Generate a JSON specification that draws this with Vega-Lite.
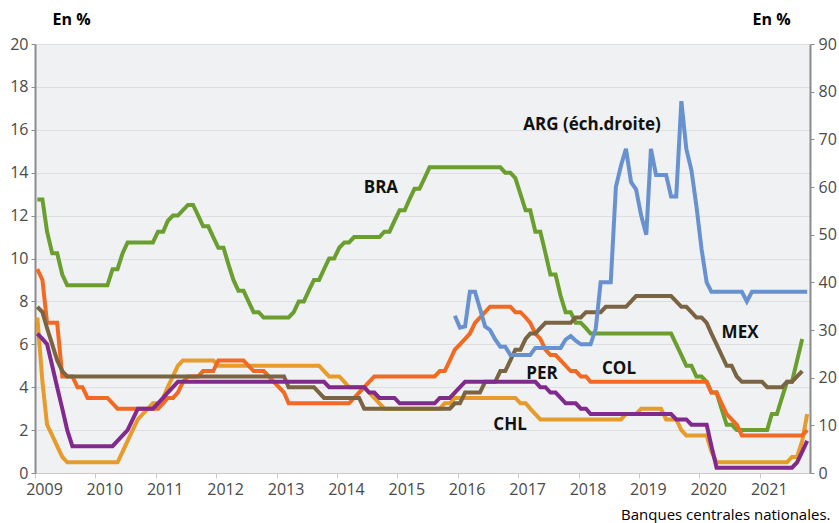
{
"$schema":"https://vega.github.io/schema/vega-lite/v6.json",
"width":775,"height":429,
"autosize":{"type":"none"},
"padding":{"left":35,"top":44,"right":29,"bottom":50},
"background":"white",
"config":{"view":{"fill":"#eff1f3","stroke":null},"font":"Open Sans"},
"data":{"values":[
{"d":"2009-01-15","BRA":12.75,"MEX":7.75,"COL":9.5,"CHL":7.25,"PER":6.5},
{"d":"2009-02-15","BRA":12.75,"MEX":7.5,"COL":9,"CHL":4.25,"PER":6.25},
{"d":"2009-03-15","BRA":11.25,"MEX":6.75,"COL":7,"CHL":2.25,"PER":6},
{"d":"2009-04-15","BRA":10.25,"MEX":6,"COL":7,"CHL":1.75,"PER":5},
{"d":"2009-05-15","BRA":10.25,"MEX":5.25,"COL":7,"CHL":1.25,"PER":4},
{"d":"2009-06-15","BRA":9.25,"MEX":4.75,"COL":4.5,"CHL":0.75,"PER":3},
{"d":"2009-07-15","BRA":8.75,"MEX":4.5,"COL":4.5,"CHL":0.5,"PER":2},
{"d":"2009-08-15","BRA":8.75,"MEX":4.5,"COL":4.5,"CHL":0.5,"PER":1.25},
{"d":"2009-09-15","BRA":8.75,"MEX":4.5,"COL":4,"CHL":0.5,"PER":1.25},
{"d":"2009-10-15","BRA":8.75,"MEX":4.5,"COL":4,"CHL":0.5,"PER":1.25},
{"d":"2009-11-15","BRA":8.75,"MEX":4.5,"COL":3.5,"CHL":0.5,"PER":1.25},
{"d":"2009-12-15","BRA":8.75,"MEX":4.5,"COL":3.5,"CHL":0.5,"PER":1.25},
{"d":"2010-01-15","BRA":8.75,"MEX":4.5,"COL":3.5,"CHL":0.5,"PER":1.25},
{"d":"2010-02-15","BRA":8.75,"MEX":4.5,"COL":3.5,"CHL":0.5,"PER":1.25},
{"d":"2010-03-15","BRA":8.75,"MEX":4.5,"COL":3.5,"CHL":0.5,"PER":1.25},
{"d":"2010-04-15","BRA":9.5,"MEX":4.5,"COL":3.25,"CHL":0.5,"PER":1.25},
{"d":"2010-05-15","BRA":9.5,"MEX":4.5,"COL":3,"CHL":0.5,"PER":1.5},
{"d":"2010-06-15","BRA":10.25,"MEX":4.5,"COL":3,"CHL":1,"PER":1.75},
{"d":"2010-07-15","BRA":10.75,"MEX":4.5,"COL":3,"CHL":1.5,"PER":2},
{"d":"2010-08-15","BRA":10.75,"MEX":4.5,"COL":3,"CHL":2,"PER":2.5},
{"d":"2010-09-15","BRA":10.75,"MEX":4.5,"COL":3,"CHL":2.5,"PER":3},
{"d":"2010-10-15","BRA":10.75,"MEX":4.5,"COL":3,"CHL":2.75,"PER":3},
{"d":"2010-11-15","BRA":10.75,"MEX":4.5,"COL":3,"CHL":3,"PER":3},
{"d":"2010-12-15","BRA":10.75,"MEX":4.5,"COL":3,"CHL":3.25,"PER":3},
{"d":"2011-01-15","BRA":11.25,"MEX":4.5,"COL":3,"CHL":3.25,"PER":3.25},
{"d":"2011-02-15","BRA":11.25,"MEX":4.5,"COL":3.25,"CHL":3.5,"PER":3.5},
{"d":"2011-03-15","BRA":11.75,"MEX":4.5,"COL":3.5,"CHL":4,"PER":3.75},
{"d":"2011-04-15","BRA":12,"MEX":4.5,"COL":3.5,"CHL":4.5,"PER":4},
{"d":"2011-05-15","BRA":12,"MEX":4.5,"COL":3.75,"CHL":5,"PER":4.25},
{"d":"2011-06-15","BRA":12.25,"MEX":4.5,"COL":4.25,"CHL":5.25,"PER":4.25},
{"d":"2011-07-15","BRA":12.5,"MEX":4.5,"COL":4.5,"CHL":5.25,"PER":4.25},
{"d":"2011-08-15","BRA":12.5,"MEX":4.5,"COL":4.5,"CHL":5.25,"PER":4.25},
{"d":"2011-09-15","BRA":12,"MEX":4.5,"COL":4.5,"CHL":5.25,"PER":4.25},
{"d":"2011-10-15","BRA":11.5,"MEX":4.5,"COL":4.75,"CHL":5.25,"PER":4.25},
{"d":"2011-11-15","BRA":11.5,"MEX":4.5,"COL":4.75,"CHL":5.25,"PER":4.25},
{"d":"2011-12-15","BRA":11,"MEX":4.5,"COL":4.75,"CHL":5.25,"PER":4.25},
{"d":"2012-01-15","BRA":10.5,"MEX":4.5,"COL":5.25,"CHL":5,"PER":4.25},
{"d":"2012-02-15","BRA":10.5,"MEX":4.5,"COL":5.25,"CHL":5,"PER":4.25},
{"d":"2012-03-15","BRA":9.75,"MEX":4.5,"COL":5.25,"CHL":5,"PER":4.25},
{"d":"2012-04-15","BRA":9,"MEX":4.5,"COL":5.25,"CHL":5,"PER":4.25},
{"d":"2012-05-15","BRA":8.5,"MEX":4.5,"COL":5.25,"CHL":5,"PER":4.25},
{"d":"2012-06-15","BRA":8.5,"MEX":4.5,"COL":5.25,"CHL":5,"PER":4.25},
{"d":"2012-07-15","BRA":8,"MEX":4.5,"COL":5,"CHL":5,"PER":4.25},
{"d":"2012-08-15","BRA":7.5,"MEX":4.5,"COL":4.75,"CHL":5,"PER":4.25},
{"d":"2012-09-15","BRA":7.5,"MEX":4.5,"COL":4.75,"CHL":5,"PER":4.25},
{"d":"2012-10-15","BRA":7.25,"MEX":4.5,"COL":4.75,"CHL":5,"PER":4.25},
{"d":"2012-11-15","BRA":7.25,"MEX":4.5,"COL":4.5,"CHL":5,"PER":4.25},
{"d":"2012-12-15","BRA":7.25,"MEX":4.5,"COL":4.25,"CHL":5,"PER":4.25},
{"d":"2013-01-15","BRA":7.25,"MEX":4.5,"COL":4,"CHL":5,"PER":4.25},
{"d":"2013-02-15","BRA":7.25,"MEX":4.5,"COL":3.75,"CHL":5,"PER":4.25},
{"d":"2013-03-15","BRA":7.25,"MEX":4,"COL":3.25,"CHL":5,"PER":4.25},
{"d":"2013-04-15","BRA":7.5,"MEX":4,"COL":3.25,"CHL":5,"PER":4.25},
{"d":"2013-05-15","BRA":8,"MEX":4,"COL":3.25,"CHL":5,"PER":4.25},
{"d":"2013-06-15","BRA":8,"MEX":4,"COL":3.25,"CHL":5,"PER":4.25},
{"d":"2013-07-15","BRA":8.5,"MEX":4,"COL":3.25,"CHL":5,"PER":4.25},
{"d":"2013-08-15","BRA":9,"MEX":4,"COL":3.25,"CHL":5,"PER":4.25},
{"d":"2013-09-15","BRA":9,"MEX":3.75,"COL":3.25,"CHL":5,"PER":4.25},
{"d":"2013-10-15","BRA":9.5,"MEX":3.5,"COL":3.25,"CHL":4.75,"PER":4.25},
{"d":"2013-11-15","BRA":10,"MEX":3.5,"COL":3.25,"CHL":4.5,"PER":4},
{"d":"2013-12-15","BRA":10,"MEX":3.5,"COL":3.25,"CHL":4.5,"PER":4},
{"d":"2014-01-15","BRA":10.5,"MEX":3.5,"COL":3.25,"CHL":4.5,"PER":4},
{"d":"2014-02-15","BRA":10.75,"MEX":3.5,"COL":3.25,"CHL":4.25,"PER":4},
{"d":"2014-03-15","BRA":10.75,"MEX":3.5,"COL":3.25,"CHL":4,"PER":4},
{"d":"2014-04-15","BRA":11,"MEX":3.5,"COL":3.5,"CHL":4,"PER":4},
{"d":"2014-05-15","BRA":11,"MEX":3.5,"COL":3.75,"CHL":4,"PER":4},
{"d":"2014-06-15","BRA":11,"MEX":3,"COL":4,"CHL":4,"PER":4},
{"d":"2014-07-15","BRA":11,"MEX":3,"COL":4.25,"CHL":3.75,"PER":3.75},
{"d":"2014-08-15","BRA":11,"MEX":3,"COL":4.5,"CHL":3.5,"PER":3.75},
{"d":"2014-09-15","BRA":11,"MEX":3,"COL":4.5,"CHL":3.25,"PER":3.5},
{"d":"2014-10-15","BRA":11.25,"MEX":3,"COL":4.5,"CHL":3,"PER":3.5},
{"d":"2014-11-15","BRA":11.25,"MEX":3,"COL":4.5,"CHL":3,"PER":3.5},
{"d":"2014-12-15","BRA":11.75,"MEX":3,"COL":4.5,"CHL":3,"PER":3.5},
{"d":"2015-01-15","BRA":12.25,"MEX":3,"COL":4.5,"CHL":3,"PER":3.25},
{"d":"2015-02-15","BRA":12.25,"MEX":3,"COL":4.5,"CHL":3,"PER":3.25},
{"d":"2015-03-15","BRA":12.75,"MEX":3,"COL":4.5,"CHL":3,"PER":3.25},
{"d":"2015-04-15","BRA":13.25,"MEX":3,"COL":4.5,"CHL":3,"PER":3.25},
{"d":"2015-05-15","BRA":13.25,"MEX":3,"COL":4.5,"CHL":3,"PER":3.25},
{"d":"2015-06-15","BRA":13.75,"MEX":3,"COL":4.5,"CHL":3,"PER":3.25},
{"d":"2015-07-15","BRA":14.25,"MEX":3,"COL":4.5,"CHL":3,"PER":3.25},
{"d":"2015-08-15","BRA":14.25,"MEX":3,"COL":4.5,"CHL":3,"PER":3.25},
{"d":"2015-09-15","BRA":14.25,"MEX":3,"COL":4.75,"CHL":3,"PER":3.5},
{"d":"2015-10-15","BRA":14.25,"MEX":3,"COL":4.75,"CHL":3.25,"PER":3.5},
{"d":"2015-11-15","BRA":14.25,"MEX":3,"COL":5.25,"CHL":3.25,"PER":3.5},
{"d":"2015-12-15","BRA":14.25,"MEX":3.25,"COL":5.75,"CHL":3.5,"PER":3.75,"ARG":33},
{"d":"2016-01-15","BRA":14.25,"MEX":3.25,"COL":6,"CHL":3.5,"PER":4,"ARG":30.5},
{"d":"2016-02-15","BRA":14.25,"MEX":3.75,"COL":6.25,"CHL":3.5,"PER":4.25,"ARG":30.75},
{"d":"2016-03-15","BRA":14.25,"MEX":3.75,"COL":6.5,"CHL":3.5,"PER":4.25,"ARG":38},
{"d":"2016-04-15","BRA":14.25,"MEX":3.75,"COL":7,"CHL":3.5,"PER":4.25,"ARG":38},
{"d":"2016-05-15","BRA":14.25,"MEX":3.75,"COL":7.25,"CHL":3.5,"PER":4.25,"ARG":34.5},
{"d":"2016-06-15","BRA":14.25,"MEX":4.25,"COL":7.5,"CHL":3.5,"PER":4.25,"ARG":30.75},
{"d":"2016-07-15","BRA":14.25,"MEX":4.25,"COL":7.75,"CHL":3.5,"PER":4.25,"ARG":30},
{"d":"2016-08-15","BRA":14.25,"MEX":4.25,"COL":7.75,"CHL":3.5,"PER":4.25,"ARG":28},
{"d":"2016-09-15","BRA":14.25,"MEX":4.75,"COL":7.75,"CHL":3.5,"PER":4.25,"ARG":26.5},
{"d":"2016-10-15","BRA":14,"MEX":4.75,"COL":7.75,"CHL":3.5,"PER":4.25,"ARG":26.5},
{"d":"2016-11-15","BRA":14,"MEX":5.25,"COL":7.75,"CHL":3.5,"PER":4.25,"ARG":24.75},
{"d":"2016-12-15","BRA":13.75,"MEX":5.75,"COL":7.5,"CHL":3.5,"PER":4.25,"ARG":24.75},
{"d":"2017-01-15","BRA":13,"MEX":5.75,"COL":7.5,"CHL":3.25,"PER":4.25,"ARG":24.75},
{"d":"2017-02-15","BRA":12.25,"MEX":6.25,"COL":7.25,"CHL":3.25,"PER":4.25,"ARG":24.75},
{"d":"2017-03-15","BRA":12.25,"MEX":6.5,"COL":7,"CHL":3,"PER":4.25,"ARG":24.75},
{"d":"2017-04-15","BRA":11.25,"MEX":6.5,"COL":6.5,"CHL":2.75,"PER":4.25,"ARG":26.25},
{"d":"2017-05-15","BRA":11.25,"MEX":6.75,"COL":6.25,"CHL":2.5,"PER":4,"ARG":26.25},
{"d":"2017-06-15","BRA":10.25,"MEX":7,"COL":5.75,"CHL":2.5,"PER":4,"ARG":26.25},
{"d":"2017-07-15","BRA":9.25,"MEX":7,"COL":5.5,"CHL":2.5,"PER":3.75,"ARG":26.25},
{"d":"2017-08-15","BRA":9.25,"MEX":7,"COL":5.5,"CHL":2.5,"PER":3.75,"ARG":26.25},
{"d":"2017-09-15","BRA":8.25,"MEX":7,"COL":5.25,"CHL":2.5,"PER":3.5,"ARG":26.25},
{"d":"2017-10-15","BRA":7.5,"MEX":7,"COL":5,"CHL":2.5,"PER":3.25,"ARG":28},
{"d":"2017-11-15","BRA":7.5,"MEX":7,"COL":4.75,"CHL":2.5,"PER":3.25,"ARG":28.75},
{"d":"2017-12-15","BRA":7,"MEX":7.25,"COL":4.75,"CHL":2.5,"PER":3.25,"ARG":27.75},
{"d":"2018-01-15","BRA":7,"MEX":7.25,"COL":4.5,"CHL":2.5,"PER":3,"ARG":27},
{"d":"2018-02-15","BRA":6.75,"MEX":7.5,"COL":4.5,"CHL":2.5,"PER":3,"ARG":27},
{"d":"2018-03-15","BRA":6.5,"MEX":7.5,"COL":4.25,"CHL":2.5,"PER":2.75,"ARG":27},
{"d":"2018-04-15","BRA":6.5,"MEX":7.5,"COL":4.25,"CHL":2.5,"PER":2.75,"ARG":30.25},
{"d":"2018-05-15","BRA":6.5,"MEX":7.5,"COL":4.25,"CHL":2.5,"PER":2.75,"ARG":40},
{"d":"2018-06-15","BRA":6.5,"MEX":7.75,"COL":4.25,"CHL":2.5,"PER":2.75,"ARG":40},
{"d":"2018-07-15","BRA":6.5,"MEX":7.75,"COL":4.25,"CHL":2.5,"PER":2.75,"ARG":40},
{"d":"2018-08-15","BRA":6.5,"MEX":7.75,"COL":4.25,"CHL":2.5,"PER":2.75,"ARG":60},
{"d":"2018-09-15","BRA":6.5,"MEX":7.75,"COL":4.25,"CHL":2.5,"PER":2.75,"ARG":64.5},
{"d":"2018-10-15","BRA":6.5,"MEX":7.75,"COL":4.25,"CHL":2.75,"PER":2.75,"ARG":68},
{"d":"2018-11-15","BRA":6.5,"MEX":8,"COL":4.25,"CHL":2.75,"PER":2.75,"ARG":61},
{"d":"2018-12-15","BRA":6.5,"MEX":8.25,"COL":4.25,"CHL":2.75,"PER":2.75,"ARG":59.5},
{"d":"2019-01-15","BRA":6.5,"MEX":8.25,"COL":4.25,"CHL":3,"PER":2.75,"ARG":54},
{"d":"2019-02-15","BRA":6.5,"MEX":8.25,"COL":4.25,"CHL":3,"PER":2.75,"ARG":50},
{"d":"2019-03-15","BRA":6.5,"MEX":8.25,"COL":4.25,"CHL":3,"PER":2.75,"ARG":68},
{"d":"2019-04-15","BRA":6.5,"MEX":8.25,"COL":4.25,"CHL":3,"PER":2.75,"ARG":62.5},
{"d":"2019-05-15","BRA":6.5,"MEX":8.25,"COL":4.25,"CHL":3,"PER":2.75,"ARG":62.5},
{"d":"2019-06-15","BRA":6.5,"MEX":8.25,"COL":4.25,"CHL":2.5,"PER":2.75,"ARG":62.5},
{"d":"2019-07-15","BRA":6.5,"MEX":8.25,"COL":4.25,"CHL":2.5,"PER":2.75,"ARG":58},
{"d":"2019-08-15","BRA":6,"MEX":8,"COL":4.25,"CHL":2.5,"PER":2.5,"ARG":58},
{"d":"2019-09-15","BRA":5.5,"MEX":7.75,"COL":4.25,"CHL":2,"PER":2.5,"ARG":78},
{"d":"2019-10-15","BRA":5,"MEX":7.75,"COL":4.25,"CHL":1.75,"PER":2.5,"ARG":68},
{"d":"2019-11-15","BRA":5,"MEX":7.5,"COL":4.25,"CHL":1.75,"PER":2.25,"ARG":63.5},
{"d":"2019-12-15","BRA":4.5,"MEX":7.25,"COL":4.25,"CHL":1.75,"PER":2.25,"ARG":56},
{"d":"2020-01-15","BRA":4.5,"MEX":7.25,"COL":4.25,"CHL":1.75,"PER":2.25,"ARG":47},
{"d":"2020-02-15","BRA":4.25,"MEX":7,"COL":4.25,"CHL":1.75,"PER":2.25,"ARG":40},
{"d":"2020-03-15","BRA":3.75,"MEX":6.5,"COL":3.75,"CHL":1,"PER":1.25,"ARG":38},
{"d":"2020-04-15","BRA":3.75,"MEX":6,"COL":3.75,"CHL":0.5,"PER":0.25,"ARG":38},
{"d":"2020-05-15","BRA":3,"MEX":5.5,"COL":3.25,"CHL":0.5,"PER":0.25,"ARG":38},
{"d":"2020-06-15","BRA":2.25,"MEX":5,"COL":2.75,"CHL":0.5,"PER":0.25,"ARG":38},
{"d":"2020-07-15","BRA":2.25,"MEX":5,"COL":2.5,"CHL":0.5,"PER":0.25,"ARG":38},
{"d":"2020-08-15","BRA":2,"MEX":4.5,"COL":2.25,"CHL":0.5,"PER":0.25,"ARG":38},
{"d":"2020-09-15","BRA":2,"MEX":4.25,"COL":1.75,"CHL":0.5,"PER":0.25,"ARG":38},
{"d":"2020-10-15","BRA":2,"MEX":4.25,"COL":1.75,"CHL":0.5,"PER":0.25,"ARG":36},
{"d":"2020-11-15","BRA":2,"MEX":4.25,"COL":1.75,"CHL":0.5,"PER":0.25,"ARG":38},
{"d":"2020-12-15","BRA":2,"MEX":4.25,"COL":1.75,"CHL":0.5,"PER":0.25,"ARG":38},
{"d":"2021-01-15","BRA":2,"MEX":4.25,"COL":1.75,"CHL":0.5,"PER":0.25,"ARG":38},
{"d":"2021-02-15","BRA":2,"MEX":4,"COL":1.75,"CHL":0.5,"PER":0.25,"ARG":38},
{"d":"2021-03-15","BRA":2.75,"MEX":4,"COL":1.75,"CHL":0.5,"PER":0.25,"ARG":38},
{"d":"2021-04-15","BRA":2.75,"MEX":4,"COL":1.75,"CHL":0.5,"PER":0.25,"ARG":38},
{"d":"2021-05-15","BRA":3.5,"MEX":4,"COL":1.75,"CHL":0.5,"PER":0.25,"ARG":38},
{"d":"2021-06-15","BRA":4.25,"MEX":4.25,"COL":1.75,"CHL":0.5,"PER":0.25,"ARG":38},
{"d":"2021-07-15","BRA":4.25,"MEX":4.25,"COL":1.75,"CHL":0.75,"PER":0.25,"ARG":38},
{"d":"2021-08-15","BRA":5.25,"MEX":4.5,"COL":1.75,"CHL":0.75,"PER":0.5,"ARG":38},
{"d":"2021-09-15","BRA":6.25,"MEX":4.75,"COL":1.75,"CHL":1.5,"PER":1,"ARG":38},
{"d":"2021-10-15","COL":2,"CHL":2.75,"PER":1.5,"ARG":38}
]},
"encoding":{
 "x":{"field":"d","type":"temporal",
  "scale":{"type":"utc","domain":[{"year":2009,"month":1,"date":1,"utc":true},{"year":2021,"month":11,"date":1,"utc":true}]},
  "axis":{"values":[{"year":2009,"utc":true},{"year":2010,"utc":true},{"year":2011,"utc":true},{"year":2012,"utc":true},{"year":2013,"utc":true},{"year":2014,"utc":true},{"year":2015,"utc":true},{"year":2016,"utc":true},{"year":2017,"utc":true},{"year":2018,"utc":true},{"year":2019,"utc":true},{"year":2020,"utc":true},{"year":2021,"utc":true}],
   "format":"%Y","formatType":"utc","grid":false,"domainColor":"#c8c8c8","domainWidth":1,"tickColor":"#c8c8c8","tickSize":5,
   "labelOffset":9,"labelFlush":false,"labelOverlap":false,"labelPadding":3,"labelFontSize":16,"labelColor":"#4a4a4a","labelFont":"Open Sans",
   "title":"Banques centrales nationales.","titleX":795,"titleY":46,"titleAlign":"right","titleBaseline":"alphabetic","titleFontWeight":"normal","titleFontSize":15,"titleColor":"#000000","titleFont":"Open Sans"}}
},
"layer":[
 {"encoding":{
    "y":{"field":"v","type":"quantitative","scale":{"domain":[0,20],"nice":false},
     "axis":{"values":[0,2,4,6,8,10,12,14,16,18,20],"grid":true,"gridColor":"#dcdee2","gridWidth":1,"domainColor":"#8c8c8c","domainWidth":2,"tickColor":"#8c8c8c","tickSize":4,"labelPadding":3,"labelFontSize":16,"labelColor":"#4a4a4a","labelFont":"Open Sans",
      "title":"En %","titleAngle":0,"titleX":17,"titleY":-20,"titleAlign":"left","titleBaseline":"alphabetic","titleFontWeight":"bold","titleFontSize":16,"titleColor":"#000000","titleFont":"Open Sans"}}},
  "layer":[
  {"transform":[{"fold":["BRA","CHL","COL","MEX","PER"],"as":["c","v"]},{"filter":"isValid(datum.v)"}],
   "mark":{"type":"line","strokeWidth":4},
   "encoding":{
    "color":{"field":"c","type":"nominal","scale":{"domain":["BRA","CHL","COL","MEX","PER"],"range":["#6a9f2f","#e69b2b","#f26a22","#7b6441","#82298d"]},"legend":null}}},
  {"data":{"values":[
    {"d":"2014-09-24","v":13.27,"t":"BRA"},
    {"d":"2020-09-04","v":6.55,"t":"MEX"},
    {"d":"2018-09-03","v":4.84,"t":"COL"},
    {"d":"2017-05-25","v":4.63,"t":"PER"},
    {"d":"2016-11-13","v":2.24,"t":"CHL"}]},
   "mark":{"type":"text","font":"Open Sans","fontWeight":"bold","fontSize":17,"color":"#111111","align":"center","baseline":"middle"},
   "encoding":{"text":{"field":"t"}}}
 ]},
 {"encoding":{
    "y":{"field":"ARG","type":"quantitative","scale":{"domain":[0,90],"nice":false},
    "axis":{"orient":"right","values":[0,10,20,30,40,50,60,70,80,90],"grid":false,"domainColor":"#8c8c8c","domainWidth":2,"tickColor":"#8c8c8c","tickSize":4,"labelPadding":4,"labelFontSize":16,"labelColor":"#4a4a4a","labelFont":"Open Sans",
     "title":"En %","titleAngle":0,"titleX":-58,"titleY":-20,"titleAlign":"left","titleBaseline":"alphabetic","titleFontWeight":"bold","titleFontSize":16,"titleColor":"#000000","titleFont":"Open Sans"}}},
  "layer":[
  {"transform":[{"filter":"isValid(datum.ARG)"}],
   "mark":{"type":"line","strokeWidth":4,"color":"#6892cf"}},
  {"data":{"values":[{"d":"2018-03-24","ARG":73,"t":"ARG (éch.droite)"}]},
   "mark":{"type":"text","font":"Open Sans","fontWeight":"bold","fontSize":17,"color":"#111111","align":"center","baseline":"middle"},
   "encoding":{"text":{"field":"t"}}}
 ]}
],
"resolve":{"scale":{"y":"independent"}}
}
